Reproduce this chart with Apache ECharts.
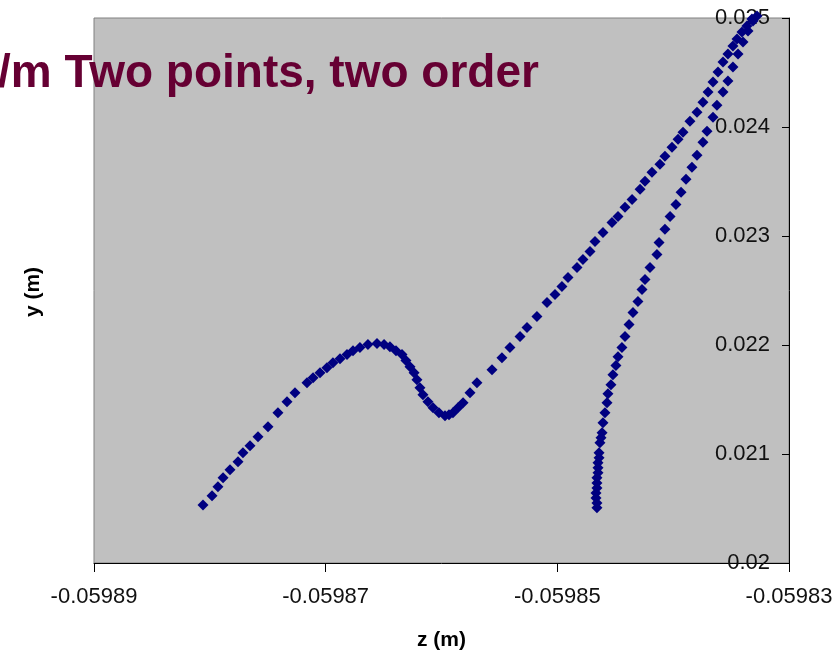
<!DOCTYPE html>
<html>
<head>
<meta charset="utf-8">
<script src="https://cdn.jsdelivr.net/npm/echarts@6/dist/echarts.min.js"></script>
<style>
html,body{margin:0;padding:0;background:#fff;}
#chart{width:837px;height:660px;}
</style>
</head>
<body>
<div id="chart"></div>
<script>
// Branch going up (left curve with bump, then straight rise to top)
var zUp = [-0.05988059,-0.05987981,-0.0598793,-0.05987886,-0.05987826,-0.05987757,-0.05987714,-0.05987653,-0.05987584,-0.05987498,
-0.05987412,-0.05987334,-0.05987265,-0.05987161,-0.05987109,-0.05987049,-0.05986989,-0.05986937,-0.05986876,-0.05986816,
-0.05986764,-0.05986704,-0.05986635,-0.05986557,-0.05986496,-0.05986445,-0.05986393,-0.05986341,-0.05986307,-0.05986272,
-0.05986237,-0.05986212,-0.05986186,-0.0598616,-0.05986117,-0.05986073,-0.05986022,-0.0598597,-0.05985935,-0.05985901,
-0.05985858,-0.05985814,-0.05985754,-0.05985694,-0.05985564,-0.05985478,-0.05985409,-0.05985322,-0.05985262,-0.05985176,
-0.05985089,-0.0598502,-0.0598496,-0.05984908,-0.0598483,-0.05984779,-0.05984718,-0.05984675,-0.05984606,-0.05984528,
-0.05984476,-0.05984416,-0.05984355,-0.05984286,-0.05984243,-0.05984183,-0.05984114,-0.05984071,-0.0598401,-0.05983958,
-0.05983915,-0.05983855,-0.05983794,-0.05983743,-0.05983699,-0.05983656,-0.05983613,-0.0598357,-0.05983527,-0.05983484,
-0.05983449,-0.05983406,-0.05983363,-0.0598332,-0.05983276];
var yUp = [0.020533,0.020616,0.020699,0.020781,0.020855,0.020928,0.021011,0.021075,0.021158,0.02125,
0.021379,0.02148,0.021563,0.021654,0.0217,0.021746,0.021792,0.021838,0.021875,0.021912,
0.021948,0.021976,0.022004,0.022013,0.022004,0.021985,0.021948,0.021912,0.021857,0.021801,
0.021746,0.021682,0.021608,0.021544,0.02148,0.021425,0.021379,0.021351,0.02136,0.021379,
0.021425,0.021471,0.021563,0.021654,0.021774,0.021884,0.021976,0.022077,0.02216,0.022261,
0.02239,0.022463,0.022537,0.022619,0.022711,0.022785,0.022858,0.02295,0.023033,0.023125,
0.02318,0.023263,0.023336,0.023428,0.023502,0.023584,0.023658,0.023732,0.023814,0.023888,
0.023952,0.024053,0.024136,0.024228,0.02432,0.024412,0.024504,0.024596,0.024669,0.024743,
0.024807,0.024871,0.024926,0.024991,0.025018];
// Branch coming back down (right curve)
var zDown = [-0.05983311,-0.05983354,-0.05983397,-0.0598344,-0.05983484,-0.05983527,-0.0598357,-0.05983622,-0.05983656,-0.05983708,
-0.05983743,-0.05983794,-0.05983838,-0.05983889,-0.05983932,-0.05983976,-0.05984027,-0.05984071,-0.05984122,-0.0598414,
-0.059842,-0.05984243,-0.05984269,-0.05984304,-0.05984347,-0.05984381,-0.05984416,-0.05984442,-0.05984476,-0.05984494,
-0.0598452,-0.05984537,-0.05984563,-0.05984571,-0.05984589,-0.05984606,-0.05984614,-0.05984623,-0.05984632,-0.0598464,
-0.0598464,-0.05984649,-0.05984649,-0.05984649,-0.05984658,-0.05984658,-0.05984658,-0.05984666,-0.05984666,-0.05984658,
-0.05984658];
var yDown = [0.024972,0.02488,0.024779,0.024669,0.02455,0.024421,0.02432,0.0242,0.02409,0.023961,
0.02386,0.023741,0.02363,0.02352,0.023401,0.02329,0.02318,0.023061,0.022941,0.022831,
0.022711,0.022601,0.022509,0.022399,0.022298,0.022188,0.022077,0.021976,0.021893,0.021811,
0.021728,0.021636,0.021553,0.021471,0.021379,0.021287,0.021195,0.021149,0.021103,0.021011,
0.020965,0.020919,0.020873,0.020827,0.020781,0.020735,0.020689,0.020643,0.020597,0.020551,
0.020506];
var titleText = '/m Two points, two order';
var xName = 'z (m)';
var yName = 'y (m)';
var xMin = -0.05989, xMax = -0.05983, xStep = 0.00002;
var yMin = 0.02, yMax = 0.025, yStep = 0.001;

function pairs(a, b) { return a.map(function (v, i) { return [v, b[i]]; }); }

var chart = echarts.init(document.getElementById('chart'), null, {renderer: 'canvas'});
var font = 'Liberation Sans, Arial, sans-serif';
var marker = {type: 'scatter', clip: false, symbol: 'diamond', symbolSize: 11,
  itemStyle: {color: '#000080', opacity: 1}};
chart.setOption({
  animation: false,
  backgroundColor: '#ffffff',
  title: {
    text: titleText,
    left: -7,
    top: 46,
    textStyle: {fontSize: 46, fontWeight: 'bold', color: '#660033', fontFamily: font}
  },
  grid: {
    left: 94, right: 48, top: 18, bottom: 97,
    show: true, backgroundColor: '#c0c0c0', borderColor: '#808080', borderWidth: 1
  },
  xAxis: {
    type: 'value', min: xMin, max: xMax, interval: xStep,
    name: xName, nameLocation: 'middle', nameGap: 67,
    nameTextStyle: {fontSize: 21, fontWeight: 'bold', color: '#000', fontFamily: font},
    axisLine: {show: true, onZero: false, lineStyle: {color: '#000', width: 1}},
    axisTick: {show: true, inside: false, length: 9, lineStyle: {color: '#000'}},
    axisLabel: {fontSize: 22, color: '#111', fontFamily: font, margin: 23,
      formatter: function (v) { return v.toFixed(5); }},
    splitLine: {show: false}
  },
  yAxis: {
    type: 'value', position: 'right', min: yMin, max: yMax, interval: yStep,
    axisLine: {show: true, onZero: false, lineStyle: {color: '#000', width: 1}},
    axisTick: {show: true, inside: true, length: 7, lineStyle: {color: '#000'}},
    axisLabel: {inside: true, fontSize: 22, color: '#111', fontFamily: font, margin: 19,
      formatter: function (v) { return String(+v.toFixed(3)); }},
    splitLine: {show: false}
  },
  graphic: [{
    type: 'text', x: 33, y: 292, rotation: Math.PI / 2,
    style: {text: yName, fontSize: 21, fontWeight: 'bold', fill: '#000', fontFamily: font,
      align: 'center', verticalAlign: 'middle'}
  }],
  series: [
    Object.assign({}, marker, {data: pairs(zUp, yUp)}),
    Object.assign({}, marker, {data: pairs(zDown, yDown)})
  ]
});
</script>
</body>
</html>
